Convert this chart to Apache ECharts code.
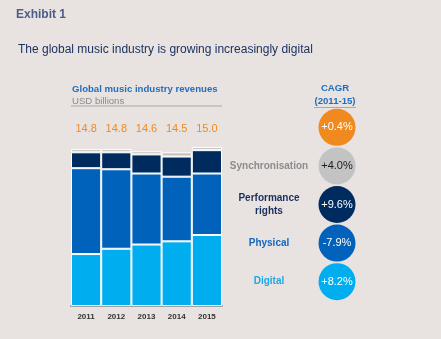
<!DOCTYPE html>
<html><head><meta charset="utf-8">
<script src="https://cdn.jsdelivr.net/npm/echarts@6/dist/echarts.min.js"></script>
<style>html,body{margin:0;padding:0;background:#E8E3E0;}#c{width:441px;height:339px;}</style>
</head><body><div id="c"></div>
<script>
var years = ['2011','2012','2013','2014','2015'];
var digital = [4.9, 5.4, 5.8, 6.1, 6.7];
var physical = [8.1, 7.5, 6.7, 6.1, 5.8];
var performance = [1.5, 1.6, 1.8, 1.9, 2.2];
var sync = [0.3, 0.3, 0.3, 0.4, 0.3];
var totals = ['14.8', '14.8', '14.6', '14.5', '15.0'];
var cagrNames = ['Digital', 'Physical', 'Performance\nrights', 'Synchronisation', ''];
var cagrValues = ['+8.2%', '-7.9%', '+9.6%', '+4.0%', '+0.4%'];

var FONT = '"Liberation Sans", Arial, sans-serif';
var colors = { digital: '#00AEEF', physical: '#0062BA', performance: '#002B5F', sync: '#C3C3C3', total: '#F0891E' };
var circleColors = [colors.digital, colors.physical, colors.performance, colors.sync, colors.total];
var circleText = ['#fff', '#fff', '#fff', '#1a1a1a', '#fff'];
var nameColors = ['#1EA7E6', '#1766BD', '#1B2F5C', '#8C8C8C', '#000'];

function barSeries(name, data, color) {
  return { name: name, type: 'bar', stack: 'rev', data: data, xAxisIndex: 0, yAxisIndex: 0,
    barCategoryGap: 0, itemStyle: { color: color, borderColor: '#fff', borderWidth: 1 } };
}
function ttl(text, left, top, color, size, weight, align) {
  var t = { text: text, left: left, top: top, padding: 0,
    textStyle: { color: color, fontSize: size, fontWeight: weight, fontFamily: FONT } };
  if (align) t.textAlign = align;
  return t;
}

var chart = echarts.init(document.getElementById('c'), null, { renderer: 'canvas' });
chart.setOption({
  backgroundColor: '#E8E3E0',
  animation: false,
  textStyle: { fontFamily: FONT },
  title: [
    ttl('Exhibit 1', 16, 9, '#4B5D8A', 12, 'bold'),
    ttl('The global music industry is growing increasingly digital', 18, 44, '#1C3360', 12, 'normal'),
    ttl('Global music industry revenues', 72, 84, '#1F6EC0', 9.6, 'bold'),
    ttl('USD billions', 72, 96, '#8A8A8A', 9.6, 'normal'),
    ttl('CAGR', 335, 83, '#1F6EC0', 9.6, 'bold', 'center'),
    ttl('(2011-15)', 335, 96, '#1F6EC0', 9.6, 'bold', 'center')
  ],
  graphic: [
    { type: 'line', shape: { x1: 71, y1: 106, x2: 222, y2: 106 }, style: { stroke: '#A8A8A8', lineWidth: 1 } },
    { type: 'line', shape: { x1: 314, y1: 107.5, x2: 356, y2: 107.5 }, style: { stroke: '#A8A8A8', lineWidth: 1 } }
  ],
  grid: [
    { left: 71, top: 147, width: 151, bottom: 33 },
    { left: 300, top: 108, width: 74, height: 193 }
  ],
  xAxis: [
    { type: 'category', data: years, gridIndex: 0,
      axisLine: { lineStyle: { color: '#A0A0A0', width: 2 } }, axisTick: { show: false },
      axisLabel: { color: '#333', fontSize: 8, fontWeight: 'bold', margin: 7, fontFamily: FONT } },
    { type: 'category', data: totals, gridIndex: 0, position: 'top',
      axisLine: { show: false }, axisTick: { show: false },
      axisLabel: { color: '#F0891E', fontSize: 11, margin: 13, fontFamily: FONT } },
    { type: 'value', gridIndex: 1, min: 0, max: 2, show: false }
  ],
  yAxis: [
    { type: 'value', gridIndex: 0, min: 0, max: 15, show: false, splitLine: { show: false } },
    { type: 'category', gridIndex: 1, data: cagrNames,
      axisLine: { show: false }, axisTick: { show: false }, splitLine: { show: false },
      axisLabel: { margin: 31, align: 'center', fontSize: 10, fontWeight: 'bold', lineHeight: 13, fontFamily: FONT,
        color: function (v, i) { return nameColors[i]; } } }
  ],
  series: [
    barSeries('Digital', digital, colors.digital),
    barSeries('Physical', physical, colors.physical),
    barSeries('Performance rights', performance, colors.performance),
    barSeries('Synchronisation', sync, colors.sync),
    { type: 'scatter', xAxisIndex: 2, yAxisIndex: 1, symbolSize: 37,
      data: cagrValues.map(function (v, i) {
        return { value: [1, i], itemStyle: { color: circleColors[i], opacity: 1 },
          label: { show: true, position: 'inside', formatter: v, color: circleText[i], fontSize: 11, fontFamily: FONT } };
      }) }
  ]
});
</script></body></html>
